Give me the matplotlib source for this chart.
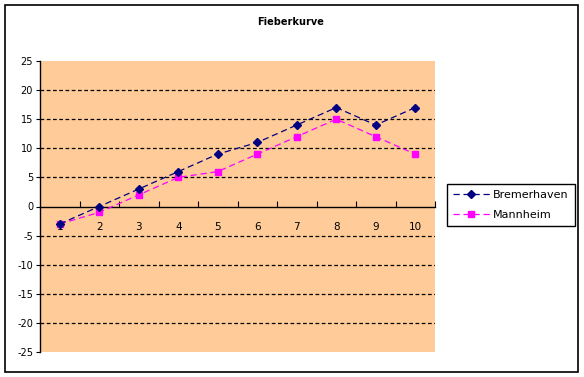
import matplotlib
matplotlib.use("Agg")
import matplotlib.pyplot as plt
from matplotlib.patches import Rectangle
import numpy as np

title = "Fieberkurve"
categories = ["1", "2", "3", "4", "5", "6", "7", "8", "9", "10"]
series_names = ["Bremerhaven", "Mannheim"]
bremerhaven = [-3, 0, 3, 6, 9, 11, 14, 17, 14, 17]
mannheim = [-3, -1, 2, 5, 6, 9, 12, 15, 12, 9]
y_ticks = [-25, -20, -15, -10, -5, 0, 5, 10, 15, 20, 25]

W, H = 584, 377
fig = plt.figure(figsize=(W / 100, H / 100), dpi=100)
fig.patch.set_facecolor("white")

# outer chart border
fig.patches.append(Rectangle((5 / W, 1 - 372 / H), 573 / W, 367 / H,
                             transform=fig.transFigure, fill=False,
                             edgecolor="black", linewidth=1.2, zorder=0))

ax = fig.add_axes([40 / W, 1 - 352 / H, 395 / W, 291 / H])
ax.set_facecolor("#FFCC99")

x = np.arange(1, len(categories) + 1)
ax.plot(x, bremerhaven, color="#000080", linestyle=(0, (5, 3)), linewidth=0.9,
        marker="D", markersize=4.5, markerfacecolor="#000080",
        markeredgecolor="#000080", label=series_names[0], zorder=4)
ax.plot(x, mannheim, color="#FF00FF", linestyle=(0, (5, 3)), linewidth=0.9,
        marker="s", markersize=5, markerfacecolor="#FF00FF",
        markeredgecolor="#FF00FF", label=series_names[1], zorder=3)

ax.set_xlim(0.5, len(categories) + 0.5)
ax.set_ylim(-25, 25)

# gridlines
for v in y_ticks:
    if v not in (-25, 0, 25):
        ax.axhline(v, color="black", linestyle=(0, (3, 2)), linewidth=0.9, zorder=1)

ax.spines["top"].set_visible(False)
ax.spines["right"].set_visible(False)
ax.spines["bottom"].set_position(("data", 0))
ax.spines["left"].set_linewidth(1.0)
ax.spines["bottom"].set_linewidth(1.0)

ax.set_yticks(y_ticks)
ax.set_yticklabels([str(v) for v in y_ticks])
ax.tick_params(axis="y", direction="out", length=3, width=0.8, labelsize=7,
               pad=2)

ax.set_xticks(x)
ax.set_xticklabels(categories)
ax.set_xticks(np.arange(1.5, len(categories) + 0.6, 1.0), minor=True)
ax.tick_params(axis="x", which="major", length=0, labelsize=7.5, pad=11)
ax.tick_params(axis="x", which="minor", direction="in", length=4, width=0.8)

fig.text(291 / W, 1 - 22 / H, title, ha="center", va="center",
         fontsize=7, fontweight="bold")

leg = fig.legend(loc="upper left", bbox_to_anchor=(447 / W, 1 - 184 / H),
                 bbox_transform=fig.transFigure, fontsize=8, frameon=True,
                 fancybox=False, edgecolor="black", framealpha=1,
                 handlelength=3.3, handletextpad=0.3, borderpad=0.55,
                 labelspacing=0.9, borderaxespad=0)
leg.get_frame().set_linewidth(1.0)

fig.savefig("out.png", dpi=100, facecolor="white")
